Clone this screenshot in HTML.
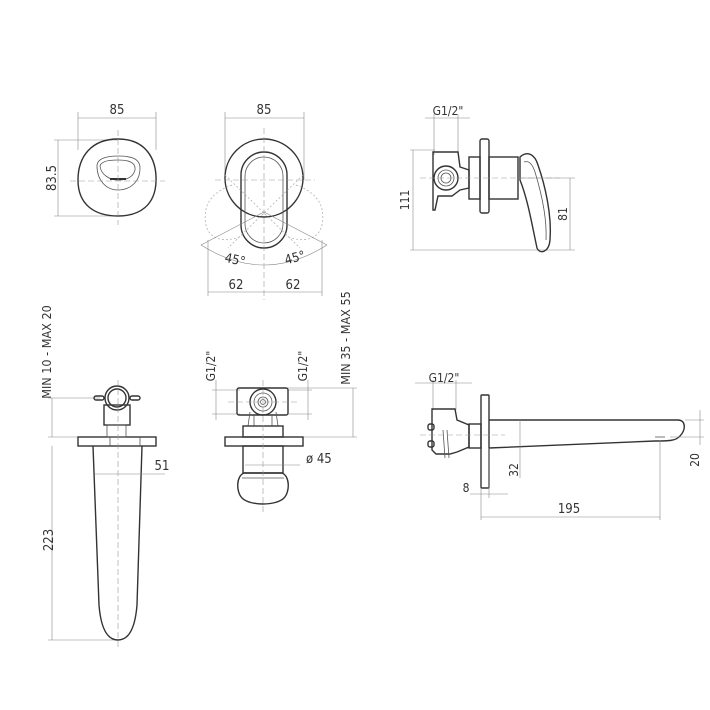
<!DOCTYPE html>
<html><head><meta charset="utf-8"><style>
html,body{margin:0;padding:0;background:#fff;}
svg{display:block;}
text{font-family:"DejaVu Sans Condensed","Liberation Sans",sans-serif;fill:#333;}
.o{fill:none;stroke:#333;stroke-width:1.4;}
.m{fill:none;stroke:#555;stroke-width:0.8;}
.d{fill:none;stroke:#888;stroke-width:0.6;}
.c{fill:none;stroke:#999;stroke-width:0.6;stroke-dasharray:6 3;}
.g{fill:none;stroke:#aaa;stroke-width:0.7;stroke-dasharray:2 2;}
</style></head><body>
<svg width="710" height="710" viewBox="0 0 710 710" xmlns="http://www.w3.org/2000/svg">
<!-- VIEW 1 -->
<g>
<line class="d" x1="78" y1="118" x2="156" y2="118"/>
<line class="d" x1="78" y1="112" x2="78" y2="150"/>
<line class="d" x1="156" y1="112" x2="156" y2="150"/>
<text x="117" y="114" font-size="13" text-anchor="middle">85</text>
<line class="d" x1="58" y1="140" x2="58" y2="216"/>
<line class="d" x1="54" y1="140" x2="118" y2="140"/>
<line class="d" x1="54" y1="216" x2="118" y2="216"/>
<text transform="translate(56,178) rotate(-90)" font-size="13" text-anchor="middle">83.5</text>
<path class="o" d="M118,139 C145,139 157,158 156,182 C155,205 140,216 118,216 C95,216 78,205 78,180 C78,156 92,139 118,139 Z"/>
<path class="m" d="M97,166 C97,158 108,156 118,156 C130,156 140,158 140,168 C140,182 130,190 118,190 C106,190 97,180 97,166 Z"/>
<path class="m" d="M100,166 C101,161 110,160 118,160 C128,160 136,162 135,170 C133,178 126,180 118,180 C110,180 101,175 100,166 Z"/>
<line x1="110" y1="179" x2="126" y2="179" stroke="#333" stroke-width="2"/>
<line class="c" x1="70" y1="181" x2="165" y2="181"/>
<line class="c" x1="118" y1="130" x2="118" y2="225"/>
</g>
<!-- VIEW 2 -->
<g>
<line class="d" x1="225" y1="118" x2="304" y2="118"/>
<line class="d" x1="225" y1="112" x2="225" y2="180"/>
<line class="d" x1="304" y1="112" x2="304" y2="180"/>
<text x="264" y="114" font-size="13" text-anchor="middle">85</text>
<ellipse class="o" cx="264" cy="178" rx="39" ry="39"/>
<path class="g" d="M232,185 C212,192 202,205 206,225 C210,242 228,242 242,236"/>
<path class="g" d="M296,185 C316,192 326,205 322,225 C318,242 300,242 286,236"/>
<rect class="o" x="241" y="152" width="46" height="96" rx="23" ry="23"/>
<rect class="m" x="245" y="157" width="38" height="86" rx="19" ry="19"/>
<line class="c" x1="215" y1="180" x2="315" y2="180"/>
<line class="c" x1="264" y1="128" x2="264" y2="300"/>
<line class="g" x1="225" y1="175" x2="300" y2="248"/>
<line class="g" x1="303" y1="175" x2="228" y2="248"/>
<path class="d" d="M201,245 Q264,285 327,245"/>
<line class="d" x1="201" y1="245" x2="264" y2="212"/>
<line class="d" x1="327" y1="245" x2="264" y2="212"/>
<text x="235" y="264" font-size="13" text-anchor="middle" transform="rotate(12 235 260)">45°</text>
<text x="295" y="262" font-size="13" text-anchor="middle" transform="rotate(-15 295 258)">45°</text>
<line class="d" x1="208" y1="292" x2="322" y2="292"/>
<line class="d" x1="208" y1="240" x2="208" y2="296"/>
<line class="d" x1="322" y1="240" x2="322" y2="296"/>
<text x="236" y="289" font-size="13" text-anchor="middle">62</text>
<text x="293" y="289" font-size="13" text-anchor="middle">62</text>
</g>
<!-- VIEW 3 -->
<g>
<line class="d" x1="425" y1="118" x2="470" y2="118"/>
<line class="d" x1="434" y1="114" x2="434" y2="155"/>
<line class="d" x1="458" y1="114" x2="458" y2="155"/>
<text x="448" y="115" font-size="12" text-anchor="middle">G1/2"</text>
<line class="d" x1="413" y1="150" x2="413" y2="250"/>
<line class="d" x1="410" y1="150" x2="435" y2="150"/>
<line class="d" x1="410" y1="250" x2="575" y2="250"/>
<text transform="translate(409,200) rotate(-90)" font-size="12" text-anchor="middle">111</text>
<line class="d" x1="570" y1="178" x2="570" y2="250"/>
<line class="d" x1="520" y1="178" x2="575" y2="178"/>
<text transform="translate(567,214) rotate(-90)" font-size="12" text-anchor="middle">81</text>
<rect class="o" x="480" y="139" width="9" height="74" rx="2"/>
<rect class="o" x="469" y="157" width="11" height="42"/>
<rect class="o" x="489" y="157" width="29" height="42"/>
<path class="o" d="M434,152 L458,152 L460,167 L469,170 L469,188 L460,190 L452,196 L438,196 L435,210 L433,210 L433,152 Z"/>
<circle class="o" cx="446" cy="178" r="12"/>
<circle class="m" cx="446" cy="178" r="8"/>
<circle class="m" cx="446" cy="178" r="5"/>
<path class="o" d="M520,157 C528,150 535,155 538,165 C545,185 552,215 550,240 C549,252 540,255 537,248 C532,225 528,200 520,180 Z"/>
<path class="m" d="M524,162 C530,160 533,166 535,172 C542,195 547,220 546,240"/>
<line class="c" x1="420" y1="178" x2="560" y2="178"/>
</g>
<!-- VIEW 4 -->
<g>
<text transform="translate(51,352) rotate(-90)" font-size="12.5" text-anchor="middle">MIN 10 - MAX 20</text>
<line class="d" x1="52" y1="398" x2="52" y2="437"/>
<line class="d" x1="48" y1="398" x2="100" y2="398"/>
<line class="d" x1="48" y1="437" x2="78" y2="437"/>
<line class="d" x1="52" y1="446" x2="52" y2="640"/>
<line class="d" x1="48" y1="640" x2="118" y2="640"/>
<text transform="translate(53,540) rotate(-90)" font-size="13" text-anchor="middle">223</text>
<rect class="o" x="78" y="437" width="78" height="9"/>
<line class="m" x1="110" y1="437" x2="110" y2="446"/><line class="m" x1="140" y1="437" x2="140" y2="446"/>
<rect class="o" x="104" y="405" width="26" height="20"/>
<rect class="m" x="107" y="425" width="19" height="12"/>
<circle class="o" cx="117" cy="398" r="12"/>
<circle class="o" cx="117" cy="398" r="9"/>
<rect class="o" x="94" y="396" width="10" height="4" rx="2"/>
<rect class="o" x="130" y="396" width="10" height="4" rx="2"/>
<path class="o" d="M93,446 L99,605 C101,630 108,640 118,640 C128,640 135,630 137,605 L142,446"/>
<line class="c" x1="118" y1="380" x2="118" y2="650"/>
<line class="d" x1="95" y1="474" x2="165" y2="474"/>
<text x="162" y="470" font-size="13" text-anchor="middle">51</text>
</g>
<!-- VIEW 5 -->
<g>
<text transform="translate(350,338) rotate(-90)" font-size="12.5" text-anchor="middle">MIN 35 - MAX 55</text>
<line class="d" x1="353" y1="388" x2="353" y2="437"/>
<line class="d" x1="285" y1="388" x2="357" y2="388"/>
<line class="d" x1="303" y1="437" x2="357" y2="437"/>
<text transform="translate(215,366) rotate(-90)" font-size="12" text-anchor="middle">G1/2"</text>
<text transform="translate(307,366) rotate(-90)" font-size="12" text-anchor="middle">G1/2"</text>
<line class="d" x1="216" y1="380" x2="216" y2="420"/>
<line class="d" x1="308" y1="380" x2="308" y2="420"/>
<line class="d" x1="212" y1="390" x2="240" y2="390"/>
<line class="d" x1="212" y1="414" x2="240" y2="414"/>
<line class="d" x1="288" y1="390" x2="312" y2="390"/>
<line class="d" x1="288" y1="414" x2="312" y2="414"/>
<rect class="o" x="237" y="388" width="51" height="27" rx="2"/>
<circle class="o" cx="263" cy="402" r="13"/>
<circle class="m" cx="263" cy="402" r="9"/>
<circle class="m" cx="263" cy="402" r="5"/>
<circle class="m" cx="263" cy="402" r="2.5"/>
<path class="m" d="M250,412 L248,426 M276,412 L278,426 M254,414 L254,426 M272,414 L272,426"/>
<rect class="o" x="243" y="426" width="40" height="11"/>
<rect class="o" x="225" y="437" width="78" height="9"/>
<rect class="o" x="243" y="446" width="40" height="27"/>
<line class="d" x1="245" y1="465" x2="300" y2="465"/>
<text x="306" y="463" font-size="13">ø 45</text>
<path class="o" d="M244,473 L282,473 C290,476 290,492 284,498 C276,506 250,506 242,498 C236,492 236,476 244,473 Z"/>
<line class="m" x1="242" y1="478" x2="284" y2="478"/>
<line class="c" x1="263" y1="380" x2="263" y2="512"/>
<line class="c" x1="228" y1="402" x2="298" y2="402"/>
</g>
<!-- VIEW 6 -->
<g>
<line class="d" x1="415" y1="383" x2="472" y2="383"/>
<line class="d" x1="433" y1="380" x2="433" y2="410"/>
<line class="d" x1="456" y1="380" x2="456" y2="410"/>
<text x="444" y="382" font-size="12" text-anchor="middle">G1/2"</text>
<rect class="o" x="481" y="395" width="8" height="93" rx="1"/>
<rect class="o" x="469" y="424" width="12" height="24"/>
<path class="o" d="M433,409 L455,409 L457,420 L469,425 L469,447 L457,452 L450,454 L436,454 L432,450 L432,409 Z"/>
<path class="m" d="M443,430 L445,458 M447,430 L449,458"/>
<rect class="o" x="428" y="424" width="6" height="6" rx="2"/>
<rect class="o" x="428" y="441" width="6" height="6" rx="2"/>
<path class="o" d="M489,420 L678,420 C686,420 686,430 680,436 C676,441 668,441 655,441 L489,448"/>
<line class="m" x1="655" y1="437" x2="665" y2="437"/>
<line class="c" x1="420" y1="435" x2="505" y2="435"/>
<line class="d" x1="520" y1="420" x2="520" y2="478"/>
<text transform="translate(518,470) rotate(-90)" font-size="12" text-anchor="middle">32</text>
<line class="d" x1="700" y1="410" x2="700" y2="445"/>
<line class="d" x1="685" y1="420" x2="704" y2="420"/>
<line class="d" x1="670" y1="437" x2="704" y2="437"/>
<text transform="translate(699,460) rotate(-90)" font-size="12" text-anchor="middle">20</text>
<line class="d" x1="470" y1="494" x2="508" y2="494"/>
<line class="d" x1="489" y1="448" x2="489" y2="498"/>
<text x="466" y="492" font-size="12" text-anchor="middle">8</text>
<line class="d" x1="481" y1="488" x2="481" y2="520"/>
<line class="d" x1="660" y1="440" x2="660" y2="520"/>
<line class="d" x1="481" y1="517" x2="660" y2="517"/>
<text x="569" y="513" font-size="13" text-anchor="middle">195</text>
</g>
</svg>
</body></html>
